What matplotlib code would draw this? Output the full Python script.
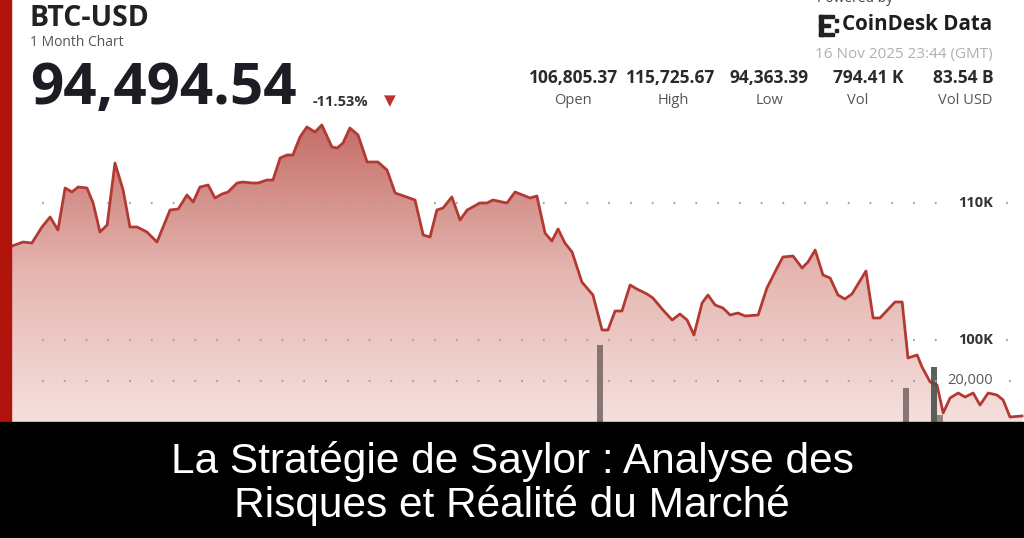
"""BTC-USD one month area chart with title banner."""

import numpy as np
import matplotlib.pyplot as plt
from matplotlib.colors import LinearSegmentedColormap
from matplotlib.patches import Rectangle

# time in days since start of window, and BTC price
days = [0.0, 0.34, 0.61, 0.92, 1.17, 1.41, 1.63, 1.84, 2.03, 2.30, 2.49, 2.70,
        2.92, 3.16, 3.41, 3.62, 3.84, 4.14, 4.45, 4.85, 5.10, 5.37, 5.56, 5.77,
        6.02, 6.23, 6.45, 6.63, 6.91, 7.09, 7.37, 7.55, 7.83, 8.01, 8.23, 8.44,
        8.62, 8.84, 9.05, 9.30, 9.51, 9.82, 9.98, 10.16, 10.37, 10.62, 10.90,
        11.23, 11.51, 11.76, 12.37, 12.62, 12.83, 13.04, 13.23, 13.50, 13.75,
        13.97, 14.36, 14.58, 14.76, 15.19, 15.44, 15.90, 16.11, 16.36, 16.57,
        16.76, 16.97, 17.19, 17.49, 17.83, 18.11, 18.29, 18.51, 18.72, 18.97,
        19.18, 19.49, 19.67, 19.98, 20.26, 20.50, 20.72, 20.93, 21.18, 21.36,
        21.58, 21.82, 22.04, 22.28, 22.50, 22.90, 23.17, 23.48, 23.66, 23.97,
        24.25, 24.43, 24.65, 24.89, 25.11, 25.35, 25.56, 25.78, 26.21, 26.43,
        26.64, 27.10, 27.32, 27.50, 27.78, 27.93, 28.18, 28.39, 28.58, 28.79,
        29.04, 29.25, 29.50, 29.71, 29.96, 30.23, 30.42, 30.63, 31.00]
price = [106861, 107153, 107080, 108248, 108978, 108029, 111095, 110803, 111168,
         111095, 110000, 107883, 108394, 112920, 110949, 108248, 108248, 107883,
         107153, 109489, 109562, 110584, 110073, 111168, 111314, 110365, 110657,
         110803, 111460, 111533, 111460, 111460, 111679, 111679, 113285, 113504,
         113504, 114818, 115547, 115182, 115693, 114088, 114015, 114380, 115475,
         114964, 112993, 112993, 112409, 110730, 110219, 107664, 107518, 109489,
         109635, 110438, 108759, 109489, 110000, 110000, 110219, 110000, 110803,
         110365, 110511, 107810, 107226, 108102, 107080, 106423, 104234, 103285,
         100730, 100730, 102117, 102117, 104015, 103723, 103358, 103066, 102190,
         101460, 101898, 101460, 100365, 102701, 103285, 102555, 102336, 101825,
         101971, 101752, 101825, 103796, 105255, 106058, 106131, 105255, 105693,
         106569, 104745, 104526, 103285, 102993, 103358, 105036, 101606, 101606,
         102774, 102774, 98686, 98905, 98029, 96934, 96715, 94672, 95766, 96131,
         95839, 96131, 95255, 96131, 95985, 95620, 94380, 94453]

# volume spikes visible above the banner
vol_days = [18.05, 27.44, 28.30, 28.48]
vol_values = [37600, 16600, 26800, 3400]
vol_colors = ["#7d6b69", "#7d6b69", "#4b514a", "#8a7a78"]

price_levels = [110000, 100000]
price_level_labels = ["110K", "100K"]
vol_level = 20000

stat_values = ["106,805.37", "115,725.67", "94,363.39", "794.41 K", "83.54 B"]
stat_labels = ["Open", "High", "Low", "Vol", "Vol USD"]
stat_x = [574, 671, 769, 868, 963]
label_x = [573, 673, 770, 858, 965]

title_lines = ["La Stratégie de Saylor : Analyse des", "Risques et Réalité du Marché"]

W, H = 1024, 538
Y_LO, Y_HI = 94015, 124817


def fx(px):
    return px / W


def fy(py):
    return 1 - py / H


fig = plt.figure(figsize=(W / 100, H / 100), dpi=100)
fig.patch.set_facecolor("white")

ax = fig.add_axes([fx(12), fy(422), 1012 / W, 422 / H])
ax.set_xlim(0, 31.06)
ax.set_ylim(Y_LO, Y_HI)
ax.axis("off")

# gradient fill under the price line
cmap = LinearSegmentedColormap.from_list("fill", ["#f5e0de", "#e5b6b1", "#c56d67"])
grad = np.linspace(0, 1, 256).reshape(-1, 1)
img = ax.imshow(grad, cmap=cmap, aspect="auto", origin="lower",
                extent=[0, 31.06, Y_LO, 115700], zorder=1)
poly = ax.fill_between(days, price, Y_LO, color="none", zorder=1)
img.set_clip_path(poly.get_paths()[0], transform=ax.transData)
ax.plot(days, price, color="#b23a33", lw=2.0, zorder=4, solid_joinstyle="round")

# dotted guide lines, broken where the labels sit
dot = dict(color="#aaa3a3", lw=1.6, ls=(0, (0.8, 9)), zorder=3)
for level, lab in zip(price_levels, price_level_labels):
    ax.axhline(level, xmin=0.03, xmax=0.925, **dot)
    ax.axhline(level, xmin=0.982, xmax=1.0, **dot)
    ax.text(0.969, level, lab, transform=ax.get_yaxis_transform(),
            ha="right", va="center", fontsize=10.5, fontweight="bold",
            color="#333333", family="Open Sans", zorder=5)

ax2 = ax.twinx()
ax2.set_ylim(0, vol_level * 422 / 41)
ax2.axis("off")
ax2.axhline(vol_level, xmin=0.03, xmax=0.918, **dot)
ax2.axhline(vol_level, xmin=0.985, xmax=1.0, **dot)
ax2.bar(vol_days, vol_values, width=0.2, color=vol_colors, alpha=0.9, zorder=2)
ax2.text(0.969, vol_level, f"{vol_level:,}", transform=ax2.get_yaxis_transform(),
         ha="right", va="center", fontsize=10.5, color="#555b58", family="Open Sans")

# left accent bar
fig.patches.append(Rectangle((0, fy(422)), fx(11), 1 - fy(422) + 0.01,
                             transform=fig.transFigure, color="#b1140d", zorder=5))

# header
fig.text(fx(30), fy(19), "BTC-USD", fontsize=20.5, fontweight="bold", color="#222222",
         family="Open Sans", va="center")
fig.text(fx(30), fy(43), "1 Month Chart", fontsize=10, color="#555555",
         family="Open Sans", va="center")
fig.text(fx(30), fy(89), "94,494.54", fontsize=42, fontweight="bold", color="#1c1c24",
         family="Open Sans", va="center")
fig.text(fx(313), fy(102), "-11.53%", fontsize=10.5, fontweight="bold", color="#333333",
         family="Open Sans", va="center")
fig.text(fx(390), fy(101), "▼", fontsize=11, color="#c0302a", ha="center", va="center")

for v, lab, x1, x2 in zip(stat_values, stat_labels, stat_x, label_x):
    fig.text(fx(x1), fy(78), v, fontsize=12.5, fontweight="bold", color="#2a2a2a",
             family="Open Sans", ha="center", va="center")
    fig.text(fx(x2), fy(101), lab, fontsize=10.5, color="#555555",
             family="Open Sans", ha="center", va="center")

# CoinDesk Data logo
fig.text(fx(855), fy(-1), "Powered by", fontsize=10, color="#444444", family="Open Sans",
         ha="center", va="center")
for (x0, y0, w, h) in [(819, 15, 4, 21), (819, 15, 15, 3), (819, 24, 11, 3),
                       (819, 33, 15, 3), (835, 19, 3, 3), (835, 29, 3, 3)]:
    fig.patches.append(Rectangle((fx(x0), fy(y0 + h)), w / W, h / H,
                                 transform=fig.transFigure, color="#222222"))
fig.text(fx(842), fy(25), "CoinDesk Data", fontsize=14.8, fontweight="bold",
         color="#1e1e1e", family="Open Sans", va="center")
fig.text(fx(993), fy(55), "16 Nov 2025 23:44 (GMT)", fontsize=11, color="#b0b0b0",
         family="Open Sans", ha="right", va="center")

# title banner
fig.patches.append(Rectangle((0, 0), 1, fy(422), transform=fig.transFigure,
                             color="black", zorder=6))
for txt, yy in zip(title_lines, [462, 506]):
    fig.text(0.5, fy(yy), txt, fontsize=30.5, color="white", ha="center", va="center",
             family="Liberation Sans", zorder=7)

fig.savefig("out.png", dpi=100)
